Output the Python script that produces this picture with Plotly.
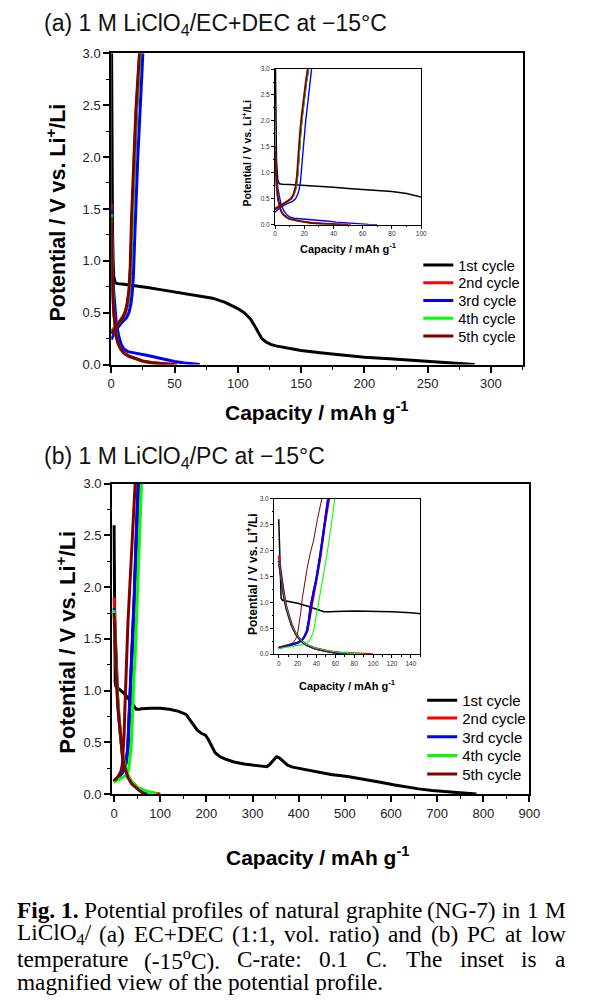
import re
import plotly.graph_objects as go

W, H = 596, 1004

cycle_names = ["1st cycle", "2nd cycle", "3rd cycle", "4th cycle", "5th cycle"]
cycle_colors = ["#000000", "#ff0000", "#0000ff", "#00ff00", "#800000"]

# ---------------- Panel (a): 1 M LiClO4 / EC+DEC ----------------
a1_dis_x = [0.3, 0.6, 1.0, 1.5, 2.0, 3.0, 5, 10, 20, 30, 40, 50, 60, 70, 80, 90, 100, 105, 110, 113, 116, 119, 122, 126, 130,
            140, 150, 165, 180, 200, 220, 240, 260, 275, 287]
a1_dis_v = [3.0, 2.0, 1.3, 1.0, 0.85, 0.79, 0.78, 0.775, 0.76, 0.74, 0.72, 0.70, 0.68, 0.66, 0.64, 0.60, 0.54, 0.50, 0.44, 0.38,
            0.31, 0.25, 0.22, 0.195, 0.18, 0.155, 0.135, 0.115, 0.095, 0.07, 0.055, 0.04, 0.025, 0.013, 0.0]
a1_chg_x = [0, 3, 6, 9, 11, 13, 14.5, 15.5, 16.5, 17.5, 18.5, 20, 21.5, 23]
a1_chg_v = [0.3, 0.35, 0.4, 0.45, 0.5, 0.58, 0.72, 0.95, 1.4, 1.75, 2.05, 2.45, 2.75, 3.0]

a2_dis_x = [0, 0.3, 0.7, 1.2, 2, 3, 4, 5.5, 7.5, 10, 14, 18, 25, 32, 40, 47, 52]
a2_dis_v = [1.55, 1.25, 0.95, 0.72, 0.5, 0.35, 0.27, 0.2, 0.15, 0.11, 0.08, 0.065, 0.035, 0.02, 0.008, 0.002, 0.0]
a2_chg_x = [0, 3, 6, 9, 11, 13, 14.5, 15.5, 16.5, 17.5, 18.5, 20, 21.5, 22.5]
a2_chg_v = [0.32, 0.36, 0.41, 0.46, 0.51, 0.6, 0.75, 1.0, 1.45, 1.8, 2.1, 2.5, 2.8, 3.0]

a3_dis_x = [0, 0.5, 1, 2, 3, 4, 6, 8, 10, 13, 17, 22, 28, 35, 42, 50, 58, 64, 70]
a3_dis_v = [1.5, 1.15, 0.95, 0.7, 0.52, 0.4, 0.27, 0.19, 0.15, 0.125, 0.115, 0.105, 0.09, 0.07, 0.05, 0.03, 0.015, 0.006, 0.0]
a3_chg_x = [0, 4, 8, 12, 14, 15.5, 16.5, 17.5, 18.5, 19.5, 21, 23, 25]
a3_chg_v = [0.24, 0.34, 0.4, 0.45, 0.5, 0.58, 0.68, 0.85, 1.2, 1.55, 2.0, 2.5, 3.0]

a4_dis_x = [0, 0.3, 0.7, 1.2, 2, 3, 4, 5.5, 7.5, 10, 14, 18, 25, 32, 38, 42]
a4_dis_v = [1.45, 1.2, 0.93, 0.7, 0.5, 0.35, 0.27, 0.2, 0.15, 0.11, 0.08, 0.06, 0.03, 0.015, 0.005, 0.0]
a4_chg_x = [0, 3, 6, 9, 11, 13, 14.5, 15.5, 16.5, 17.5, 18.5, 20, 21.5, 22.8]
a4_chg_v = [0.31, 0.35, 0.4, 0.45, 0.5, 0.59, 0.73, 0.97, 1.42, 1.77, 2.07, 2.47, 2.77, 3.0]

a5_dis_x = [0, 0.3, 0.7, 1.2, 2, 3, 4, 5.5, 7.5, 10, 14, 18, 25, 32, 40, 46, 50]
a5_dis_v = [1.42, 1.15, 0.9, 0.7, 0.5, 0.35, 0.27, 0.2, 0.15, 0.11, 0.08, 0.063, 0.033, 0.018, 0.007, 0.002, 0.0]
a5_chg_x = [0, 3, 6, 9, 11, 12.5, 14, 15, 16, 17, 18, 19.5, 21, 22.3]
a5_chg_v = [0.3, 0.35, 0.4, 0.45, 0.5, 0.58, 0.72, 0.95, 1.4, 1.75, 2.05, 2.45, 2.75, 3.0]

# ---------------- Panel (b): 1 M LiClO4 / PC ----------------
b1_dis_x = [0, 0.5, 1, 1.5, 2.5, 4, 10, 20, 30, 40, 48, 55, 60, 80, 100, 120, 140, 156, 168, 180, 190, 198, 204, 210, 219,
            230, 240, 260, 282, 310, 331, 338, 345, 352, 358, 366, 376, 387, 410, 436, 470, 506, 540, 577, 605, 633, 660,
            689, 727, 755, 785]
b1_dis_v = [2.6, 2.2, 1.7, 1.3, 1.08, 1.04, 1.02, 0.98, 0.93, 0.87, 0.82, 0.82, 0.825, 0.83, 0.83, 0.82, 0.80, 0.77, 0.70,
            0.62, 0.585, 0.57, 0.53, 0.48, 0.40, 0.36, 0.34, 0.31, 0.29, 0.275, 0.264, 0.29, 0.33, 0.36, 0.35, 0.32, 0.28,
            0.26, 0.24, 0.216, 0.19, 0.169, 0.145, 0.115, 0.09, 0.067, 0.05, 0.035, 0.02, 0.01, 0.0]
b1_chg_x = [0, 5, 10, 15, 20, 24, 27, 29.5, 31.5, 33.5, 36.5, 39.5, 43.5, 47.5, 52]
b1_chg_v = [0.12, 0.14, 0.16, 0.19, 0.22, 0.26, 0.33, 0.45, 0.65, 0.92, 1.2, 1.45, 1.9, 2.45, 3.0]

b2_dis_x = [0, 1, 2, 3, 4.5, 6, 8, 11, 14, 18, 22, 26, 30, 38, 46, 53, 65, 80, 90, 100]
b2_dis_v = [1.9, 1.75, 1.6, 1.45, 1.3, 1.12, 0.93, 0.74, 0.56, 0.4, 0.3, 0.23, 0.18, 0.12, 0.08, 0.055, 0.032, 0.015, 0.007, 0.0]
b2_chg_x = [0, 5, 10, 15, 20, 24, 27, 30.5, 32.5, 34.5, 37.5, 40.5, 44.5, 48.5, 53.5]
b2_chg_v = [0.13, 0.15, 0.17, 0.19, 0.22, 0.26, 0.33, 0.45, 0.65, 0.92, 1.2, 1.45, 1.9, 2.45, 3.0]

b3_dis_x = [0, 1, 2, 3, 4.5, 6, 8, 11, 14, 18, 22, 26, 30, 38, 46, 53, 60, 66, 72]
b3_dis_v = [1.8, 1.66, 1.52, 1.38, 1.24, 1.07, 0.89, 0.71, 0.54, 0.39, 0.29, 0.22, 0.17, 0.11, 0.075, 0.05, 0.03, 0.014, 0.0]
b3_chg_x = [0, 5, 10, 15, 20, 24, 27, 30, 32, 34, 37, 40, 44, 48, 52.5]
b3_chg_v = [0.12, 0.14, 0.16, 0.19, 0.22, 0.26, 0.33, 0.45, 0.65, 0.92, 1.2, 1.45, 1.9, 2.45, 3.0]

b4_dis_x = [0, 1, 2, 3, 4.5, 6, 8, 11, 14, 18, 22, 26, 30, 38, 46, 53, 65, 75, 85, 92]
b4_dis_v = [1.78, 1.64, 1.5, 1.37, 1.23, 1.07, 0.9, 0.72, 0.55, 0.4, 0.3, 0.23, 0.18, 0.12, 0.085, 0.06, 0.035, 0.02, 0.008, 0.0]
b4_chg_x = [0, 5, 10, 15, 20, 25, 28.5, 32, 35, 37, 39, 40.6, 43, 45.7, 49, 52.6, 56, 59.5]
b4_chg_v = [0.11, 0.13, 0.14, 0.155, 0.17, 0.18, 0.19, 0.25, 0.35, 0.45, 0.65, 0.89, 1.12, 1.33, 1.7, 2.1, 2.55, 3.0]

b5_dis_x = [0, 1, 2, 3, 4.5, 6, 8, 11, 14, 18, 22, 26, 30, 38, 46, 53, 60, 65]
b5_dis_v = [1.75, 1.6, 1.46, 1.32, 1.18, 1.02, 0.85, 0.68, 0.52, 0.37, 0.28, 0.21, 0.16, 0.1, 0.065, 0.04, 0.018, 0.0]
b5_chg_x = [0, 5, 10, 15, 18, 20, 21.7, 23.3, 25, 27.5, 30, 33.5, 37, 41, 45.7]
b5_chg_v = [0.13, 0.15, 0.18, 0.22, 0.29, 0.4, 0.57, 0.8, 1.08, 1.38, 1.65, 1.95, 2.2, 2.6, 3.0]

a_sets = [(a1_dis_x, a1_dis_v, a1_chg_x, a1_chg_v), (a2_dis_x, a2_dis_v, a2_chg_x, a2_chg_v),
          (a3_dis_x, a3_dis_v, a3_chg_x, a3_chg_v), (a4_dis_x, a4_dis_v, a4_chg_x, a4_chg_v),
          (a5_dis_x, a5_dis_v, a5_chg_x, a5_chg_v)]
b_sets = [(b1_dis_x, b1_dis_v, b1_chg_x, b1_chg_v), (b2_dis_x, b2_dis_v, b2_chg_x, b2_chg_v),
          (b3_dis_x, b3_dis_v, b3_chg_x, b3_chg_v), (b4_dis_x, b4_dis_v, b4_chg_x, b4_chg_v),
          (b5_dis_x, b5_dis_v, b5_chg_x, b5_chg_v)]

SANS = "Liberation Sans, Arial, sans-serif"
SERIF = "Liberation Serif, Times New Roman, serif"

def px(xp):
    return xp / W

def py(yp):
    return 1 - yp / H

fig = go.Figure()

main_w = 3.0
inset_w_a = [1.5, 1.6, 1.4, 1.5, 1.8]
inset_w_b = [1.5, 2.0, 2.2, 1.1, 1.0]

# one legend per entry so that the entries can sit as close together as in the original
legend_a_y = [262, 280, 298, 316, 334]
legend_b_y = [704, 722, 741, 760, 779]
legend_layout = {}

def legend_key(n):
    return "legend" if n == 1 else "legend%d" % n

def add_panel(sets, xa, ya, xi, yi, first_legend, leg_x, leg_ys, leg_size, inset_widths):
    for i, (dx, dv, cx, cv) in enumerate(sets):
        key = legend_key(first_legend + i)
        legend_layout[key] = dict(x=px(leg_x), y=py(leg_ys[i]), xanchor="left", yanchor="middle",
                                  bgcolor="rgba(0,0,0,0)", borderwidth=0,
                                  font=dict(family=SANS, size=leg_size, color="black"))
        xs = list(dx) + [None] + list(cx)
        vs = list(dv) + [None] + list(cv)
        fig.add_trace(go.Scatter(x=xs, y=vs, mode="lines", name=cycle_names[i],
                                 line=dict(color=cycle_colors[i], width=main_w),
                                 xaxis=xa, yaxis=ya, legend=key, showlegend=True,
                                 connectgaps=False, hoverinfo="skip"))
    for i, (dx, dv, cx, cv) in enumerate(sets):
        xs = list(dx) + [None] + list(cx)
        vs = list(dv) + [None] + list(cv)
        fig.add_trace(go.Scatter(x=xs, y=vs, mode="lines", name=cycle_names[i],
                                 line=dict(color=cycle_colors[i], width=inset_widths[i]),
                                 xaxis=xi, yaxis=yi, showlegend=False,
                                 connectgaps=False, hoverinfo="skip"))

add_panel(a_sets, "x", "y", "x2", "y2", 1, 425, legend_a_y, 14.5, inset_w_a)
add_panel(b_sets, "x3", "y3", "x4", "y4", 6, 429, legend_b_y, 15, inset_w_b)

def main_axis(domain, rng, dtick, minor_dtick, anchor, fmt=None):
    d = dict(domain=domain, range=rng, dtick=dtick, tick0=0, anchor=anchor,
             showgrid=False, zeroline=False, showline=True, linecolor="black", linewidth=2,
             mirror=True, ticks="outside", ticklen=6, tickwidth=1.5, tickcolor="black",
             tickfont=dict(family=SANS, size=13, color="#222"),
             minor=dict(dtick=minor_dtick, tick0=0, ticks="outside", ticklen=3, tickwidth=1.2, tickcolor="black"))
    if fmt:
        d["tickformat"] = fmt
    return d

def inset_axis(domain, rng, dtick, minor_dtick, anchor, fmt=None):
    d = dict(domain=domain, range=rng, dtick=dtick, tick0=0, anchor=anchor,
             showgrid=False, zeroline=False, showline=True, linecolor="black", linewidth=1,
             mirror=True, ticks="outside", ticklen=3, tickwidth=0.8, tickcolor="black",
             tickfont=dict(family=SANS, size=6.5, color="#333"),
             minor=dict(dtick=minor_dtick, tick0=0, ticks="outside", ticklen=1.5, tickwidth=0.6, tickcolor="black"))
    if fmt:
        d["tickformat"] = fmt
    return d

fig.update_layout(
    width=W, height=H, margin=dict(l=0, r=0, t=0, b=0),
    paper_bgcolor="white", plot_bgcolor="white",
    xaxis=main_axis([px(110), px(532)], [0, 325], 50, 25, "y"),
    yaxis=main_axis([py(363), py(47)], [0, 3], 0.5, 0.25, "x", ".1f"),
    xaxis2=inset_axis([px(278), px(428)], [0, 100], 20, 10, "y2"),
    yaxis2=inset_axis([py(221), py(63)], [0, 3], 0.5, 0.25, "x2", ".1f"),
    xaxis3=main_axis([px(111), px(539)], [-4, 900], 100, 50, "y3"),
    yaxis3=main_axis([py(799), py(484)], [0, 3], 0.5, 0.25, "x3", ".1f"),
    xaxis4=inset_axis([px(277), px(427)], [-5, 150], 20, 10, "y4"),
    yaxis4=inset_axis([py(657), py(499)], [0, 3], 0.5, 0.25, "x4", ".1f"),
    showlegend=True,
    **legend_layout,
)

annotations = []

def ann(text, x, y, size, family=SANS, xanchor="center", yanchor="middle", angle=0, color="black"):
    annotations.append(dict(text=text, x=px(x), y=py(y), xref="paper", yref="paper", showarrow=False,
                            xanchor=xanchor, yanchor=yanchor, textangle=angle, borderpad=0,
                            font=dict(family=family, size=size, color=color)))

# panel titles
ann("(a) 1 M LiClO<sub>4</sub>/EC+DEC at \u221215\u00b0C", 40, 18, 23, xanchor="left", color="#111")
ann("(b) 1 M LiClO<sub>4</sub>/PC at \u221215\u00b0C", 40, 457, 23, xanchor="left", color="#111")

# main axis titles
ytitle = "<b>Potential / V vs. Li<sup>+</sup>/Li</b>"
xtitle = "<b>Capacity / mAh g<sup>-1</sup></b>"
ann(ytitle, 53, 209, 21.5, angle=-90)
ann(xtitle, 321, 410, 21)
ann(ytitle, 64, 645, 22, angle=-90)
ann(xtitle, 322, 862, 21)

# inset axis titles
ann(ytitle, 249, 149, 10.5, angle=-90)
ann(xtitle, 353, 245, 11)
ann(ytitle, 255, 576, 12, angle=-90)
ann(xtitle, 352, 688, 11)

# ---------------- caption (justified, word by word using Times metrics) ----------------
TIMES = {" ": 250, "(": 333, ")": 333, "+": 564, ",": 250, "-": 333, ".": 250, "/": 278, ":": 278,
         "C": 667, "D": 722, "E": 611, "F": 556, "G": 722, "L": 611, "M": 889, "N": 722, "O": 722, "P": 556,
         "T": 611, "a": 444, "b": 500, "c": 444, "d": 500, "e": 444, "f": 333, "g": 500, "h": 500, "i": 278,
         "l": 278, "m": 778, "n": 500, "o": 500, "p": 500, "r": 333, "s": 389, "t": 278, "u": 500, "v": 500,
         "w": 722, "y": 500}
TIMES_B = {" ": 250, "F": 611, "i": 278, "g": 500, ".": 250, "1": 500}

def text_width(html, size):
    w = 0.0
    bold = False
    scale = 1.0
    for tok in re.split(r"(<[^>]+>)", html):
        if tok.startswith("<"):
            t = tok.lower()
            if t == "<b>":
                bold = True
            elif t == "</b>":
                bold = False
            elif t in ("<sub>", "<sup>"):
                scale = 0.7
            elif t in ("</sub>", "</sup>"):
                scale = 1.0
            continue
        for ch in tok:
            table = TIMES_B if bold else TIMES
            w += table.get(ch, 500) * scale
    return w * size / 1000.0

CAP_SIZE = 23.3
CAP_L, CAP_R = 12, 575
caption_lines = [
    (917, ["<b>Fig. 1.</b>", "Potential", "profiles", "of", "natural", "graphite", "(NG-7)", "in", "1", "M"], True),
    (941.5, ["LiClO<sub>4</sub>/", "(a)", "EC+DEC", "(1:1,", "vol.", "ratio)", "and", "(b)", "PC", "at", "low"], True),
    (966, ["temperature", "(-15<sup>o</sup>C).", "C-rate:", "0.1", "C.", "The", "inset", "is", "a"], True),
    (990, ["magnified view of the potential profile."], False),
]
for yline, words, justify in caption_lines:
    widths = [text_width(w_, CAP_SIZE) for w_ in words]
    gap = (CAP_R - CAP_L - sum(widths)) / (len(words) - 1) if justify else 0
    x = CAP_L
    for w_, ww in zip(words, widths):
        ann(w_, x, yline, CAP_SIZE, family=SERIF, xanchor="left")
        x += ww + gap

fig.update_layout(annotations=annotations)

fig.write_html("out.html", config={"displayModeBar": False},
               post_script="document.body.style.margin='0px';document.body.style.padding='0px';")
